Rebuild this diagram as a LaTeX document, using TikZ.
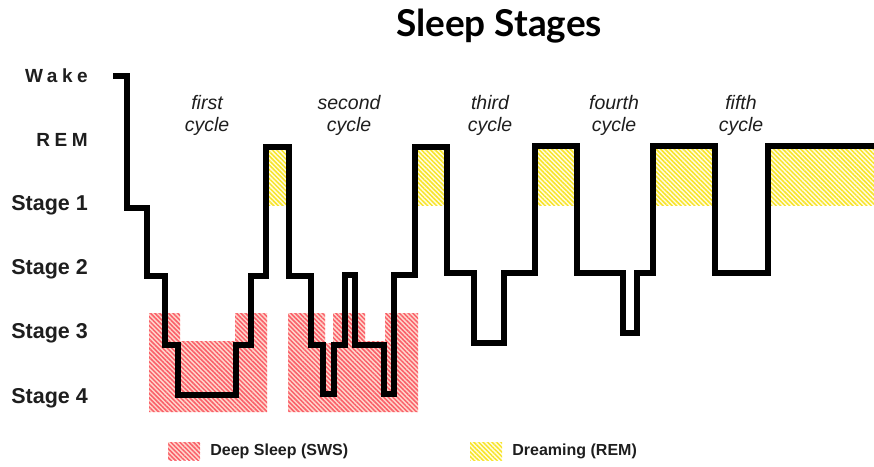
\documentclass[tikz,border=0pt]{standalone}
\usepackage{fontspec}
\setmainfont{Liberation Sans}
\newfontfamily\titlefont{Lato}
\newfontfamily\spacedfont[LetterSpace=24]{Liberation Sans}
\usetikzlibrary{positioning, patterns.meta}
\definecolor{swsline}{RGB}{250,95,105}
\definecolor{swsback}{RGB}{255,215,205}
\definecolor{remline}{RGB}{248,228,40}
\definecolor{remback}{RGB}{255,252,225}
\definecolor{labelgray}{RGB}{30,30,30}

\begin{document}
\begin{tikzpicture}[x=1pt, y=-1pt,
    stagelabel/.style={anchor=east,
      inner sep=0pt,
      font=\fontsize{21.5}{25}\selectfont\bfseries,
      text=labelgray},
    cyclelabel/.style={align=center,
      inner sep=0pt,
      font=\fontsize{19.5}{22}\selectfont\itshape,
      text=labelgray},
    sws/.style={preaction={fill=swsback},
      pattern={Lines[angle=-45, distance=3.2pt, line width=1.5pt]},
      pattern color=swsline},
    rem/.style={preaction={fill=remback},
      pattern={Lines[angle=-45, distance=3.2pt, line width=1.5pt]},
      pattern color=remline},
    hypno/.style={line width=6.5pt, line join=miter},
    legendtext/.style={anchor=west,
      inner sep=0pt,
      font=\fontsize{16}{19}\selectfont\bfseries,
      text=labelgray}]
  \useasboundingbox (0,0) rectangle (874,466);

  % TITLE

  \node[font=\titlefont\bfseries\fontsize{37}{43}\selectfont] (title)
    at (499,26) {Sleep Stages};

  % LEVELS

  \node[stagelabel, font=\spacedfont\bfseries\fontsize{19}{22}\selectfont]
    (wake) at (88,76) {Wake};

  \node[stagelabel, font=\spacedfont\bfseries\fontsize{19}{22}\selectfont,
    below=64pt of wake.east,
    anchor=east] (rem) {REM};

  \node[stagelabel,
    below=65pt of rem.east,
    anchor=east] (stageone) {Stage 1};

  \node[stagelabel,
    below=64pt of stageone.east,
    anchor=east] (stagetwo) {Stage 2};

  \node[stagelabel,
    below=64pt of stagetwo.east,
    anchor=east] (stagethree) {Stage 3};

  \node[stagelabel,
    below=65pt of stagethree.east,
    anchor=east] (stagefour) {Stage 4};

  % CYCLES

  \node[cyclelabel] (firstcycle) at (207,115) {first\\cycle};
  \node[cyclelabel] (secondcycle) at (349,115) {second\\cycle};
  \node[cyclelabel] (thirdcycle) at (490,115) {third\\cycle};
  \node[cyclelabel] (fourthcycle) at (614,115) {fourth\\cycle};
  \node[cyclelabel] (fifthcycle) at (741,115) {fifth\\cycle};

  % DEEP SLEEP

  \fill[sws] (149,313) -- (180,313) -- (180,341) -- (235,341) -- (235,313)
    -- (267,313) -- (267,412) -- (149,412) -- cycle;
  \fill[sws] (288,313) -- (325,313) -- (325,343) -- (333,343) -- (333,313)
    -- (365,313) -- (365,341) -- (385,341) -- (385,313) -- (418,313)
    -- (418,412) -- (288,412) -- cycle;

  % DREAMING

  \fill[rem] (266,147) rectangle (289,205);
  \fill[rem] (415,147) rectangle (447,205);
  \fill[rem] (535,146) rectangle (577,205);
  \fill[rem] (653,146) rectangle (715,205);
  \fill[rem] (768,146) rectangle (874,205);

  % HYPNOGRAM

  \draw[hypno] (113,76) -- (127,76) -- (127,208) -- (147,208) -- (147,276)
    -- (165,276) -- (165,345) -- (178,345) -- (178,395) -- (236,395)
    -- (236,345) -- (251,345) -- (251,276) -- (266,276) -- (266,147)
    -- (289,147) -- (289,276) -- (311,276) -- (311,345) -- (323,345)
    -- (323,394) -- (334,394) -- (334,345) -- (345,345) -- (345,275)
    -- (355,275) -- (355,345) -- (384,345) -- (384,394) -- (394,394)
    -- (394,275) -- (415,275) -- (415,147) -- (447,147) -- (447,273)
    -- (474,273) -- (474,343) -- (504,343) -- (504,273) -- (535,273)
    -- (535,146) -- (577,146) -- (577,273) -- (623,273) -- (623,333)
    -- (637,333) -- (637,273) -- (653,273) -- (653,146) -- (715,146)
    -- (715,273) -- (768,273) -- (768,146) -- (874,146);

  % LEGEND

  \node[sws, minimum width=32pt, minimum height=18pt] (swsbox) at (184,451) {};
  \node[legendtext, right=10pt of swsbox] (swstext) {Deep Sleep (SWS)};

  \node[rem, minimum width=32pt, minimum height=18pt] (rembox) at (486,451) {};
  \node[legendtext, right=10pt of rembox] (remtext) {Dreaming (REM)};

\end{tikzpicture}
\end{document}
